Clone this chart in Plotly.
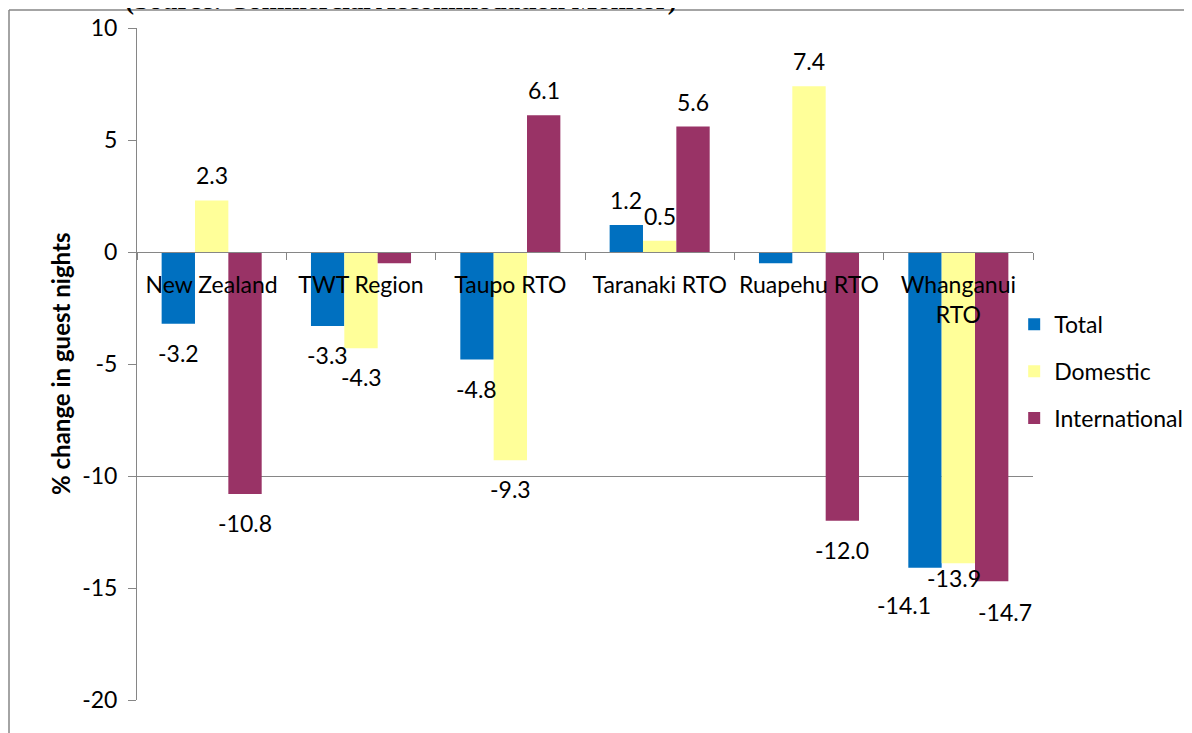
import plotly.graph_objects as go

# ---------------- data ----------------
categories = ["New Zealand", "TWT Region", "Taupo RTO", "Taranaki RTO", "Ruapehu RTO", "Whanganui<br>RTO"]
series_names = ["Total", "Domestic", "International"]
total = [-3.2, -3.3, -4.8, 1.2, -0.5, -14.1]
domestic = [2.3, -4.3, -9.3, 0.5, 7.4, -13.9]
international = [-10.8, -0.5, 6.1, 5.6, -12.0, -14.7]
y_tick_values = [10, 5, 0, -5, -10, -15, -20]
y_tick_text = ["10", "5", "0", "-5", "-10", "-15", "-20"]
source_note = "(Source: Commercial Accommodation Monitor)"
y_title = "% change in guest nights"

# ---------------- style ----------------
colors = ["#0070C0", "#FFFF99", "#993366"]
grey = "#868686"
font_family = "Lato, 'Open Sans', sans-serif"
font_size = 23
bargap = 0.33
# labels that the original chart does not show
hidden_labels = {(0, 4), (2, 1)}
# pixel nudges for the crowded labels (series index, category index): (dx, dy)
label_nudge = {(0, 5): (-21, -8), (1, 5): (-4, 14), (2, 5): (13, -2)}

series_values = [total, domestic, international]

fig = go.Figure()
for j, (name, vals) in enumerate(zip(series_names, series_values)):
    fig.add_trace(go.Bar(
        x=categories, y=vals, name=name,
        marker=dict(color=colors[j], line=dict(width=0)),
        legendgroup=name,
        yaxis="y",
    ))
# helper (invisible) trace so that the grid-only axis is drawn
fig.add_trace(go.Scatter(
    x=categories, y=[None] * len(categories), yaxis="y2",
    showlegend=False, hoverinfo="skip", mode="markers",
))

# data labels
n = len(series_names)
annotations = []
for j, vals in enumerate(series_values):
    offset = (j - (n - 1) / 2) * (1 - bargap) / n
    for i, v in enumerate(vals):
        if (j, i) in hidden_labels:
            continue
        dx, dy = label_nudge.get((j, i), (0, 0))
        annotations.append(dict(
            x=i + offset, y=v, xref="x", yref="y",
            text=f"{v:.1f}", showarrow=False,
            font=dict(family=font_family, size=font_size, color="#000000"),
            xanchor="center", yanchor="middle",
            xshift=dx, yshift=(25 if v >= 0 else -29) + dy,
        ))

# y-axis title
annotations.append(dict(
    x=-0.086, y=0.5, xref="paper", yref="paper", text=f"<b>{y_title}</b>",
    textangle=-90, showarrow=False,
    font=dict(family=font_family, size=24, color="#000000"),
    xanchor="center", yanchor="middle",
))
# cut-off source note at top
annotations.append(dict(
    x=0.295, y=1.0165, xref="paper", yref="paper", text=f"<b>{source_note}</b>",
    showarrow=False, font=dict(family="Liberation Serif, serif", size=27, color="#000000"),
    xanchor="center", yanchor="bottom",
))

# the page adds an 8px body margin, so the figure is laid out 8px up/left
fig.update_layout(
    width=1192, height=733,
    margin=dict(l=129, r=167, t=20, b=41, autoexpand=False),
    paper_bgcolor="white", plot_bgcolor="white",
    barmode="group", bargap=bargap, bargroupgap=0,
    font=dict(family=font_family, size=font_size, color="#000000"),
    showlegend=True,
    legend=dict(
        x=0.979, y=0.591, xanchor="left", yanchor="top",
        font=dict(family=font_family, size=font_size, color="#000000"),
        traceorder="grouped", tracegroupgap=14,
        bgcolor="rgba(0,0,0,0)",
    ),
    xaxis=dict(
        type="category", range=[-0.5, 5.5], automargin=False,
        anchor="free", position=2 / 3,
        showline=True, linecolor=grey, linewidth=1,
        ticks="outside", tickson="boundaries", ticklen=7, tickcolor=grey,
        showgrid=False, zeroline=False,
        ticklabelstandoff=12,
        tickfont=dict(family=font_family, size=font_size, color="#000000"),
    ),
    yaxis=dict(
        range=[-20, 10], tickvals=y_tick_values, ticktext=y_tick_text, automargin=False,
        showline=True, linecolor=grey, linewidth=1,
        ticks="outside", ticklen=8, tickcolor=grey,
        showgrid=False, zeroline=False,
        ticklabelstandoff=6,
        tickfont=dict(family=font_family, size=font_size, color="#000000"),
    ),
    yaxis2=dict(
        range=[-20, 10], dtick=10, overlaying="y", side="left", automargin=False,
        showgrid=True, gridcolor=grey, gridwidth=1,
        showticklabels=False, ticks="", showline=False, zeroline=False,
    ),
    annotations=annotations,
    shapes=[
        dict(type="line", xref="paper", yref="paper",
             x0=(9 - 137) / 896, x1=1.3, y0=(700 - 10) / 672, y1=(700 - 10) / 672,
             line=dict(color=grey, width=1.5), layer="above"),
        dict(type="line", xref="paper", yref="paper",
             x0=(9 - 137) / 896, x1=(9 - 137) / 896, y0=-0.1, y1=(700 - 10) / 672,
             line=dict(color=grey, width=1.5), layer="above"),
    ],
)

fig.write_html("out.html")
